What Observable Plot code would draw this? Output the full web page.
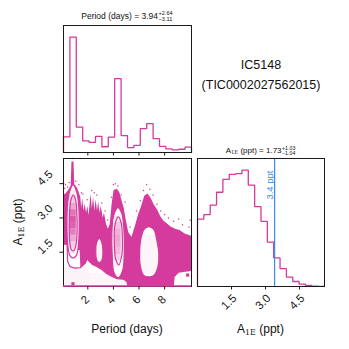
<!DOCTYPE html>
<html><head><meta charset="utf-8">
<script src="https://cdn.jsdelivr.net/npm/d3@7"></script>
<script src="https://cdn.jsdelivr.net/npm/@observablehq/plot@0.6"></script>
<style>
body{margin:0;background:#fff;}
#wrap{position:relative;width:349px;height:349px;overflow:hidden;font-family:"Liberation Sans",Arial,sans-serif;color:#111;background:#fff;}
#wrap svg{position:absolute;left:0;top:0;}
.lbl{position:absolute;white-space:nowrap;transform:translate(-50%,-50%);line-height:1;}
.ss{display:inline-block;vertical-align:middle;font-size:0.66em;line-height:1.0;text-align:left;margin-left:0.5px;}
.ss span{display:block;}
.sub{font-family:"DejaVu Serif","Liberation Serif",serif;font-size:0.66em;vertical-align:-0.2em;}
</style></head><body><div id="wrap"></div>
<script>
const PINK = "#d43b9c";
const BLUE = "#3a8ee8";
const INK = "#1a1a1a";

// ---- 1D histogram: Period (days), 20 bins, normalised to peak
const periodEdges = [0.1,0.6,1.1,1.6,2.1,2.6,3.1,3.6,4.1,4.6,5.1,5.6,6.1,6.6,7.1,7.6,8.1,8.6,9.1,9.6,10.1];
const periodCounts = [0.136,1.0,0.22,0.10,0.087,0.14,0.05,0.133,0.64,0.147,0.043,0.062,0.206,0.25,0.12,0.053,0.031,0.022,0.028,0.047];
// ---- 1D histogram: A1E (ppt)
const ampEdges = [0,0.28,0.56,0.84,1.12,1.4,1.68,1.96,2.24,2.52,2.8,3.08,3.36,3.64,3.92,4.2,4.48,4.76,5.04,5.32,5.6];
const ampCounts = [0.579,0.617,0.700,0.810,0.920,0.964,0.970,1.0,0.871,0.686,0.559,0.382,0.246,0.153,0.081,0.043,0.020,0.009,0.003,0.001];

const periodRange = [0.1,10.1];
const ampRange = [0,5.6];
const periodTicks = [2,4,6,8];
const periodTickLabels = ["2","4","6","8"];
const ampTicks = [1.5,3.0,4.5];
const ampTickLabels = ["1.5","3.0","4.5"];
const ampThreshold = 3.4;
const ampThresholdLabel = "3.4 ppt";

// ---- 2D panel: upper envelope of the scatter cloud [period, A1E]
const cloudTop = [[0.1,4.0],[0.3,4.05],[0.5,4.2],[0.7,4.4],[0.76,5.45],[0.92,5.45],[0.98,4.45],[1.2,4.3],[1.45,3.9],[1.52,3.4],[1.6,3.85],[1.7,3.3],[1.8,3.6],[1.9,3.2],[2.0,3.5],[2.1,3.1],[2.25,4.05],[2.35,3.4],[2.45,3.9],[2.55,3.3],[2.65,3.8],[2.75,3.3],[2.85,3.7],[2.95,3.2],[3.05,3.5],[3.2,3.0],[3.3,3.2],[3.45,2.75],[3.6,2.5],[3.75,2.7],[3.9,3.6],[4.05,4.2],[4.3,4.25],[4.5,4.1],[4.7,3.7],[4.85,3.4],[5.0,2.9],[5.2,2.35],[5.45,2.15],[5.7,2.6],[5.95,3.1],[6.2,3.5],[6.45,3.95],[6.7,4.05],[6.95,3.85],[7.2,3.55],[7.45,3.35],[7.7,3.05],[7.95,2.85],[8.2,2.75],[8.5,2.6],[8.85,2.5],[9.2,2.45],[9.6,2.3],[10.1,2.2]];
// sparse scatter points above the cloud
const strayPoints = [[0.12,4.5],[0.18,4.3],[0.25,4.45],[0.42,4.35],[0.55,4.55],[0.84,5.6],[1.05,4.6],[1.3,4.45],[1.5,4.1],[1.62,4.05],[1.95,3.8],[2.3,4.2],[2.5,4.1],[2.7,4.0],[3.1,3.65],[3.35,3.3],[3.55,2.9],[3.85,3.9],[4.0,4.45],[4.15,4.5],[4.35,4.4],[4.6,4.0],[4.9,3.7],[5.3,2.6],[5.8,3.3],[6.1,3.75],[6.35,4.2],[6.6,4.45],[6.85,4.25],[7.1,4.0],[7.4,3.6],[7.7,3.3],[8.0,3.15],[8.3,3.0],[8.7,2.85],[9.1,2.95],[9.4,2.7],[9.9,2.6],[10.0,2.9]];
const strayBlocks = [[0.84,0.12],[9.8,0.5]];
const floorA = 0.02;

// contour shapes [period, A1E]
const bandContour = [[0.1,1.85],[0.38,1.85],[0.42,1.1],[0.6,0.88],[1.0,0.8],[1.4,0.82],[1.8,1.02],[1.95,1.22],[2.1,1.1],[2.4,0.95],[2.7,0.88],[3.1,0.74],[3.5,0.56],[3.9,0.44],[4.3,0.34],[4.8,0.32],[5.05,0.22],[5.15,0]];
const bandCorner = [0.1,0];
const bridgeA = [[0.42,0.82],[1.42,0.82],[1.36,1.6],[0.4,1.6]];
const cornerRight = [[8.72,0],[8.78,0.42],[9.1,0.6],[9.6,0.64],[10.1,0.68],[10.1,0]];
const blobAOuter = [[0.85,4.45],[1.1,4.2],[1.28,3.6],[1.33,2.8],[1.28,1.9],[1.1,1.35],[0.85,1.25],[0.6,1.35],[0.42,1.9],[0.37,2.8],[0.42,3.6],[0.6,4.2]];
const blobAInner = [[0.86,4.0],[1.04,3.8],[1.14,3.2],[1.16,2.5],[1.1,1.9],[0.95,1.6],[0.85,1.56],[0.7,1.62],[0.58,2.0],[0.55,2.6],[0.58,3.3],[0.69,3.8]];
const blobB = [[2.9,2.1],[3.08,1.95],[3.18,1.55],[3.1,1.15],[2.9,1.05],[2.7,1.15],[2.62,1.55],[2.7,1.95]];
const blobCOuter = [[4.35,3.45],[4.65,3.2],[4.82,2.5],[4.85,1.5],[4.72,0.7],[4.38,0.38],[4.05,0.6],[3.9,1.4],[3.88,2.4],[4.02,3.1]];
const blobCInner = [[4.38,3.05],[4.6,2.8],[4.7,2.1],[4.66,1.4],[4.42,0.95],[4.18,1.2],[4.07,1.9],[4.12,2.7]];
const blobD = [[6.75,2.62],[7.15,2.5],[7.4,2.0],[7.55,1.4],[7.45,0.8],[7.15,0.48],[6.75,0.42],[6.35,0.5],[6.1,0.9],[6.05,1.5],[6.15,2.1],[6.4,2.5]];

// density cells [p1, p2, a1, a2, weight]
const densityCells = [
  [0.6,1.1,1.40,1.68,0.12],[0.6,1.1,1.68,1.96,0.25],[0.6,1.1,1.96,2.24,0.45],[0.6,1.1,2.24,2.52,0.65],
  [0.6,1.1,2.52,2.80,0.8],[0.6,1.1,2.80,3.08,0.85],[0.6,1.1,3.08,3.36,0.7],[0.6,1.1,3.36,3.64,0.45],
  [0.6,1.1,3.64,3.92,0.25],[0.6,1.1,3.92,4.20,0.1],
  [0.1,0.6,1.96,3.64,0.1],[1.1,1.6,1.96,3.64,0.1],
  [4.1,4.6,0.84,1.12,0.1],[4.1,4.6,1.12,1.40,0.22],[4.1,4.6,1.40,1.68,0.35],[4.1,4.6,1.68,1.96,0.42],
  [4.1,4.6,1.96,2.24,0.45],[4.1,4.6,2.24,2.52,0.4],[4.1,4.6,2.52,2.80,0.3],[4.1,4.6,2.80,3.08,0.15],
  [3.6,4.1,1.12,2.80,0.08],[4.6,5.1,1.12,2.80,0.08],
  [6.1,7.6,0.56,2.24,0.05],[2.6,3.1,1.12,1.96,0.08],
  [0.1,2.1,0,0.84,0.06],[2.1,5.1,0,0.56,0.05]
];

// ---------- helpers building tables from the arrays
function stepPts(edges, counts){
  const pts=[{x:edges[0],y:0}];
  counts.forEach((c,i)=>{pts.push({x:edges[i],y:c},{x:edges[i+1],y:c});});
  pts.push({x:edges[edges.length-1],y:0});
  return pts;
}
function poly(id, arr){ return arr.map(([P,A])=>({id,P,A})); }
const cloud = cloudTop.map(([P,A])=>({P,A}));
const strays = strayPoints.map(([P,A])=>({P,A}));
const blocks = strayBlocks.map(([P,A])=>({P,A}));
const cells = densityCells.map(([p1,p2,a1,a2,w])=>({p1,p2,a1,a2,w}));
const bandFillPts = poly("band",[bandCorner,...bandContour]);
const straightFills = [...bandFillPts, ...poly("bridge",bridgeA), ...poly("corner",cornerRight)];
const outerOvals = [...poly("A",blobAOuter), ...poly("B",blobB), ...poly("C",blobCOuter), ...poly("D",blobD)];
const allOvals = [...outerOvals, ...poly("Ai",blobAInner), ...poly("Ci",blobCInner)];
const bandLine = poly("bandline", bandContour);

const baseStyle = {background:"transparent", fontFamily:'"Liberation Sans", Arial, sans-serif', color: INK, overflow:"visible"};
const W = 349, H = 349;

// ---------- top-left: Period histogram
const p1 = Plot.plot({
  width:W, height:H, marginLeft:63, marginRight:158, marginTop:25, marginBottom:197,
  style: baseStyle,
  x:{domain:periodRange}, y:{domain:[0,1.1], axis:null},
  marks:[
    Plot.line(stepPts(periodEdges, periodCounts), {x:"x", y:"y", stroke:PINK, strokeWidth:1.3, strokeLinejoin:"miter"}),
    Plot.frame({stroke:INK, strokeWidth:1}),
    Plot.axisX({ticks:periodTicks, tickSize:3.5, tickFormat:()=>"", label:null})
  ]
});

// ---------- bottom-left: 2D density
const p2 = Plot.plot({
  width:W, height:H, marginLeft:63, marginRight:158, marginTop:158, marginBottom:63,
  style: baseStyle,
  x:{domain:periodRange}, y:{domain:ampRange},
  opacity:{domain:[0,1], range:[0,1]},
  marks:[
    Plot.areaY(cloud, {x:"P", y1:0, y2:"A", fill:PINK}),
    Plot.dot(strays, {x:"P", y:"A", r:0.75, fill:PINK, stroke:null}),
    Plot.line(straightFills, {x:"P", y:"A", z:"id", fill:"white", stroke:"none", curve:"linear-closed"}),
    Plot.line(outerOvals, {x:"P", y:"A", z:"id", fill:"white", stroke:"none", curve:"catmull-rom-closed"}),
    Plot.rect(cells, {x1:"p1", x2:"p2", y1:"a1", y2:"a2", fill:PINK, fillOpacity:"w"}),
    Plot.line(allOvals, {x:"P", y:"A", z:"id", stroke:PINK, strokeWidth:1.2, curve:"catmull-rom-closed"}),
    Plot.line(bandLine, {x:"P", y:"A", stroke:PINK, strokeWidth:1.2}),
    Plot.dot(blocks, {x:"P", y:"A", symbol:"square", r:1.8, fill:PINK, stroke:null}),
    Plot.frame({stroke:INK, strokeWidth:1}),
    Plot.ruleY([floorA], {stroke:PINK, strokeWidth:1.6}),
    Plot.axisX({ticks:periodTicks, tickSize:3.5, tickFormat:()=>"", label:null}),
    Plot.axisY({ticks:ampTicks, tickSize:3.5, tickFormat:()=>"", label:null}),
    Plot.text(periodTicks, {x:d=>d, text:(d,i)=>periodTickLabels[i], frameAnchor:"bottom", dy:16, rotate:-45, fontSize:11.5, fill:INK}),
    Plot.text(ampTicks, {y:d=>d, text:(d,i)=>ampTickLabels[i], frameAnchor:"left", dx:-24, rotate:-45, fontSize:11.5, fill:INK})
  ]
});

// ---------- bottom-right: A1E histogram
const p3 = Plot.plot({
  width:W, height:H, marginLeft:197, marginRight:25, marginTop:158, marginBottom:63,
  style: baseStyle,
  x:{domain:ampRange}, y:{domain:[0,1.1], axis:null},
  marks:[
    Plot.line(stepPts(ampEdges, ampCounts), {x:"x", y:"y", stroke:PINK, strokeWidth:1.3, strokeLinejoin:"miter"}),
    Plot.ruleX([ampThreshold], {stroke:BLUE, strokeWidth:1.2}),
    Plot.text([ampThreshold], {x:d=>d, text:()=>ampThresholdLabel, frameAnchor:"top", rotate:-90, textAnchor:"end", lineAnchor:"bottom", dx:-1.5, dy:12, fill:BLUE, fontSize:9.5}),
    Plot.frame({stroke:INK, strokeWidth:1}),
    Plot.axisX({ticks:ampTicks, tickSize:3.5, tickFormat:()=>"", label:null}),
    Plot.text(ampTicks, {x:d=>d, text:(d,i)=>ampTickLabels[i], frameAnchor:"bottom", dy:18, rotate:-45, fontSize:11.5, fill:INK})
  ]
});

const wrap = document.getElementById("wrap");
wrap.append(p1, p2, p3);

function label(html, x, y, size, extra){
  const d = document.createElement("div");
  d.className = "lbl";
  d.style.left = x+"px"; d.style.top = y+"px"; d.style.fontSize = size+"px";
  if (extra) d.style.transform = extra;
  d.innerHTML = html;
  wrap.append(d);
}
label('Period (days) = 3.94<span class="ss"><span>+2.64</span><span>&minus;3.11</span></span>', 127, 17, 8.5);
label('A<span class="sub">1E</span> (ppt) = 1.73<span class="ss"><span>+1.03</span><span>&minus;1.04</span></span>', 260.5, 151, 8);
label('IC5148', 261, 65, 12.5);
label('(TIC0002027562015)', 261, 85, 12.5);
label('Period (days)', 127, 329, 12);
label('A<span class="sub">1E</span> (ppt)', 260.5, 330, 12);
label('A<span class="sub">1E</span> (ppt)', 19, 222, 12, "translate(-50%,-50%) rotate(-90deg)");
</script></body></html>
